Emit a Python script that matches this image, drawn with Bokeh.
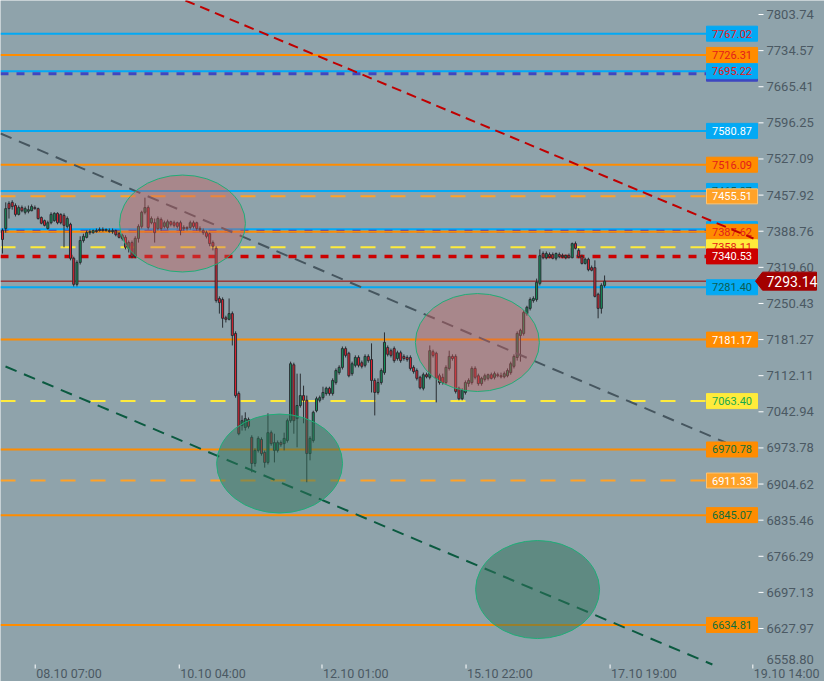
from bokeh.plotting import figure
from bokeh.models import Range1d, ColumnDataSource
from bokeh.core.properties import value
from bokeh.embed import file_html
from bokeh.resources import INLINE

# ---------------- DATA ----------------
open_ = [
    7390, 7394, 7442, 7444, 7438, 7421, 7434, 7425, 7427, 7428,
    7434, 7432, 7415, 7409, 7394, 7405, 7409, 7423, 7421, 7419,
    7398, 7402, 7337, 7287, 7329, 7371, 7377, 7386, 7386, 7390,
    7390, 7392, 7390, 7390, 7388, 7390, 7384, 7381, 7377, 7356,
    7367, 7340, 7375, 7398, 7425, 7434, 7405, 7405, 7394, 7411,
    7398, 7396, 7407, 7405, 7405, 7405, 7394, 7396, 7396, 7405,
    7405, 7394, 7390, 7386, 7384, 7367, 7356, 7260, 7258, 7223,
    7220, 7231, 7193, 7078, 7017, 7013, 7028, 6994, 6944, 6969,
    6990, 6965, 6946, 7003, 6969, 6969, 6984, 6982, 6988, 7026,
    7133, 7030, 7055, 7074, 7065, 6963, 6988, 7045, 7065, 7070,
    7078, 7088, 7078, 7099, 7118, 7128, 7164, 7155, 7116, 7132,
    7147, 7137, 7132, 7149, 7143, 7103, 7080, 7099, 7118, 7166,
    7160, 7164, 7145, 7156, 7149, 7147, 7147, 7128, 7122, 7109,
    7088, 7114, 7109, 7158, 7155, 7112, 7109, 7099, 7126, 7149,
    7149, 7088, 7068, 7080, 7097, 7099, 7126, 7112, 7097, 7105,
    7107, 7114, 7109, 7114, 7112, 7110, 7112, 7118, 7130, 7147,
    7189, 7193, 7231, 7241, 7256, 7258, 7289, 7346, 7338, 7344,
    7344, 7337, 7344, 7342, 7338, 7342, 7338, 7365, 7352, 7340,
    7327, 7335, 7319, 7319, 7268, 7241, 7285,
]
high = [
    7394, 7444, 7446, 7448, 7442, 7438, 7438, 7436, 7438, 7440,
    7438, 7434, 7417, 7411, 7409, 7425, 7425, 7425, 7423, 7423,
    7417, 7405, 7340, 7333, 7379, 7384, 7390, 7392, 7392, 7394,
    7396, 7396, 7394, 7394, 7394, 7392, 7388, 7384, 7381, 7371,
    7371, 7379, 7402, 7428, 7453, 7438, 7417, 7413, 7417, 7415,
    7409, 7411, 7409, 7409, 7407, 7409, 7400, 7398, 7409, 7409,
    7407, 7398, 7394, 7390, 7386, 7371, 7360, 7264, 7262, 7227,
    7260, 7235, 7197, 7082, 7036, 7042, 7032, 6998, 6973, 6996,
    6994, 6969, 7040, 7007, 7001, 6988, 6988, 7003, 7030, 7139,
    7137, 7116, 7116, 7093, 7074, 6996, 7045, 7072, 7074, 7091,
    7091, 7091, 7107, 7126, 7132, 7168, 7168, 7158, 7139, 7151,
    7151, 7141, 7153, 7153, 7174, 7107, 7107, 7126, 7195, 7170,
    7164, 7168, 7160, 7160, 7153, 7151, 7151, 7132, 7126, 7112,
    7118, 7118, 7170, 7162, 7158, 7116, 7116, 7132, 7160, 7153,
    7153, 7091, 7088, 7103, 7107, 7130, 7130, 7116, 7110, 7116,
    7116, 7118, 7120, 7118, 7118, 7120, 7126, 7139, 7153, 7197,
    7202, 7237, 7246, 7262, 7264, 7298, 7354, 7350, 7350, 7348,
    7348, 7348, 7348, 7346, 7344, 7346, 7367, 7369, 7356, 7344,
    7338, 7338, 7323, 7333, 7271, 7289, 7304,
]
low = [
    7346, 7386, 7413, 7430, 7417, 7419, 7425, 7421, 7423, 7427,
    7430, 7411, 7402, 7398, 7392, 7402, 7407, 7402, 7402, 7358,
    7394, 7333, 7283, 7283, 7325, 7367, 7375, 7382, 7384, 7386,
    7388, 7388, 7388, 7386, 7384, 7379, 7375, 7371, 7354, 7348,
    7337, 7337, 7367, 7394, 7421, 7392, 7402, 7367, 7390, 7390,
    7394, 7392, 7398, 7396, 7394, 7381, 7390, 7390, 7392, 7394,
    7390, 7388, 7382, 7375, 7360, 7352, 7252, 7231, 7204, 7214,
    7218, 7170, 7070, 6998, 7007, 7007, 7011, 6927, 6938, 6965,
    6959, 6936, 6942, 6978, 6946, 6965, 6976, 6969, 6984, 7022,
    7001, 6975, 7051, 7021, 6908, 6950, 6984, 7042, 7061, 7066,
    7074, 7074, 7074, 7095, 7114, 7124, 7147, 7109, 7112, 7128,
    7128, 7126, 7128, 7137, 7080, 7036, 7076, 7095, 7114, 7149,
    7147, 7137, 7141, 7137, 7141, 7139, 7122, 7116, 7103, 7086,
    7084, 7107, 7105, 7147, 7061, 7095, 7095, 7095, 7122, 7141,
    7078, 7065, 7065, 7076, 7091, 7095, 7105, 7093, 7093, 7101,
    7103, 7105, 7105, 7109, 7107, 7107, 7109, 7114, 7126, 7141,
    7139, 7189, 7227, 7237, 7252, 7254, 7285, 7335, 7335, 7337,
    7335, 7333, 7337, 7337, 7335, 7337, 7337, 7354, 7337, 7325,
    7325, 7312, 7312, 7262, 7222, 7231, 7281,
]
close = [
    7373, 7432, 7432, 7436, 7421, 7434, 7428, 7432, 7430, 7436,
    7432, 7413, 7404, 7400, 7405, 7421, 7423, 7405, 7405, 7400,
    7413, 7337, 7287, 7329, 7371, 7379, 7386, 7388, 7390, 7388,
    7392, 7390, 7392, 7388, 7390, 7382, 7377, 7375, 7358, 7367,
    7340, 7375, 7398, 7425, 7434, 7396, 7413, 7386, 7413, 7394,
    7405, 7407, 7402, 7400, 7398, 7390, 7396, 7394, 7405, 7398,
    7394, 7392, 7386, 7379, 7365, 7360, 7256, 7252, 7222, 7220,
    7231, 7189, 7074, 7001, 7026, 7030, 7015, 6944, 6969, 6992,
    6963, 6946, 7003, 6982, 6984, 6984, 6980, 6992, 7026, 7135,
    7026, 7055, 7074, 7065, 6963, 6992, 7042, 7068, 7070, 7080,
    7088, 7078, 7103, 7122, 7128, 7164, 7151, 7112, 7135, 7147,
    7132, 7130, 7149, 7141, 7103, 7080, 7099, 7122, 7176, 7153,
    7151, 7141, 7156, 7141, 7145, 7143, 7126, 7120, 7107, 7089,
    7114, 7110, 7160, 7151, 7107, 7099, 7099, 7128, 7149, 7145,
    7082, 7068, 7084, 7099, 7103, 7126, 7109, 7097, 7107, 7112,
    7114, 7107, 7116, 7112, 7110, 7116, 7122, 7135, 7149, 7193,
    7199, 7233, 7243, 7258, 7260, 7291, 7342, 7338, 7346, 7340,
    7337, 7346, 7340, 7340, 7342, 7338, 7365, 7356, 7340, 7327,
    7335, 7315, 7314, 7264, 7241, 7285, 7293.14,
]
last_price = 7293.14

x_tick_bars = [10.1, 54.6, 98.7, 143.2, 187.7, 231.8]
x_tick_labels = ["08.10 07:00", "10.10 04:00", "12.10 01:00", "15.10 22:00", "17.10 19:00", "19.10 14:00"]
y_ticks = [7803.74, 7734.57, 7665.41, 7596.25, 7527.09, 7457.92, 7388.76, 7319.60, 7250.43,
           7181.27, 7112.11, 7042.94, 6973.78, 6904.62, 6835.46, 6766.29, 6697.13, 6627.97]
y_bottom_label = 6558.80

# horizontal levels (prices)
level_prices = [7767.02, 7726.31, 7695.22, 7690.40, 7580.87, 7516.09, 7465.87, 7455.51, 7392.69,
                7388.60, 7387.62, 7358.11, 7340.53, 7293.14, 7281.40, 7181.17, 7063.40, 6970.78,
                6911.33, 6845.07, 6634.81]
level_kinds = ["blue", "orange", "blue", "dblue", "blue", "orange", "blue", "lorange", "blue",
               "dblue", "orange", "yellow", "red", "price", "blue", "orange", "yellow", "orange",
               "lorange", "orange", "orange"]

# price tags at the right edge (drawing order)
tag_prices = [7767.02, 7726.31, 7690.40, 7695.22, 7580.87, 7516.09, 7465.87, 7455.51, 7392.69,
              7387.62, 7358.11, 7340.53, 7281.40, 7181.17, 7063.40, 6970.78, 6911.33, 6845.07, 6634.81]
tag_kinds = ["blue", "orange", "dblue", "blue", "blue", "orange", "blue", "lorange", "blue",
             "orange", "yellow", "red", "blue", "orange", "yellow", "orange", "lorange", "orange", "orange"]
tag_text_kinds = ["red", "red", "none", "red", "white", "red", "teal", "white", "teal",
                  "red", "red", "white", "teal", "white", "green", "dgreen", "white", "dgreen", "dgreen"]

# trend lines (bar index, price)
trend_red_x = [56.5, 232.0]
trend_red_y = [7830.55, 7374.8]
trend_gray_x = [-0.62, 223.4]
trend_gray_y = [7575.9, 6984.1]
trend_green_x = [0.93, 219.3]
trend_green_y = [7129.7, 6559.0]

# ellipses (bar index, price, width in bars, height in price)
ell_x = [55.6, 146.7, 85.6, 165.3]
ell_y = [7403.5, 7175.6, 6943.9, 6702.6]
ell_w = [38.9, 38.3, 38.9, 38.3]
ell_h = [185.7, 187.7, 189.6, 187.7]
ell_kind = ["red", "red", "green", "green"]

# ---------------- LAYOUT / STYLE ----------------
W, H = 824, 681
BAR_PX = 3.237          # pixels per bar
PRICE_PER_PX = 1.91489  # price units per pixel
X0 = -0.62
YTOP = 7830.55
CHART_R = 757           # right edge of the candle area (px)
CHART_B = 664           # bottom edge of the candle area (px)


def sx(px):
    return X0 + px / BAR_PX


def sy(py):
    return YTOP - py * PRICE_PER_PX


BG = "#8fa3ab"
AXC = "#4b5963"
COL = {"blue": "#03a9f4", "orange": "#ff8c00", "lorange": "#ffa228", "yellow": "#ffeb3b",
       "red": "#cc0000", "dblue": "#3f47c0", "price": "#a00000"}
LSTYLE = {"blue": ("solid", 2), "orange": ("solid", 2), "lorange": ("15 15", 2), "yellow": ("15 15", 2),
          "red": ("8 8", 3.5), "dblue": ("8 8", 3), "price": ("solid", 1)}
TXT = {"red": "#e31b1b", "white": "#ffffff", "teal": "#0b5d52", "green": "#18a84c",
       "dgreen": "#0f6e3c"}

p = figure(width=W, height=H, x_range=Range1d(sx(0), sx(W)), y_range=Range1d(sy(H), sy(0)),
           x_axis_location=None, y_axis_location=None, output_backend="svg", toolbar_location=None,
           min_border=0, min_border_left=0, min_border_right=0, min_border_top=0, min_border_bottom=0,
           background_fill_color=BG, border_fill_color=BG, outline_line_color=None)
p.grid.visible = False

XE = sx(CHART_R)

# horizontal levels
for pr, k in zip(level_prices, level_kinds):
    dash, w = LSTYLE[k]
    p.line([X0, XE], [pr, pr], line_color=COL[k], line_width=w, line_dash=dash)

# candles
idx = list(range(len(close)))
src = ColumnDataSource(dict(
    x=idx, high=high, low=low,
    top=[max(o, c) for o, c in zip(open_, close)],
    bottom=[min(o, c) for o, c in zip(open_, close)],
    color=["#13925a" if c >= o else "#e4212f" for o, c in zip(open_, close)],
))
p.segment(x0="x", y0="high", x1="x", y1="low", source=src, line_color="#2a2e33", line_width=1)
p.vbar(x="x", top="top", bottom="bottom", width=0.62, source=src,
       fill_color="color", line_color="#2a2e33", line_width=1)

# trend lines under ellipses
p.line(trend_gray_x, trend_gray_y, line_color="#46565f", line_width=2, line_dash="12 8")
p.line(trend_green_x, trend_green_y, line_color="#0b5a40", line_width=2, line_dash="12 8")

# ellipses
EF = {"red": ("#cd5c5c", 0.4), "green": ("#2f715a", 0.5)}
for ex, ey, ew, eh, k in zip(ell_x, ell_y, ell_w, ell_h, ell_kind):
    fc, fa = EF[k]
    p.ellipse(x=[ex], y=[ey], width=[ew], height=[eh], fill_color=fc, fill_alpha=fa,
              line_color="#1fae78", line_width=1)

# right-edge price tags
bx = sx(CHART_R - 25.5)
for pr, k, tk in zip(tag_prices, tag_kinds, tag_text_kinds):
    edge = "#ffc470" if k == "lorange" else COL[k]
    p.rect(x=[bx], y=[pr], width=51, height=15, width_units="screen", height_units="screen",
           fill_color=COL[k], line_color=edge, line_width=1)
    if tk != "none":
        p.text(x=[bx], y=[pr], text=["%.2f" % pr], text_align="center", text_baseline="middle",
               text_font=value("Roboto"), text_font_size="11px", text_color=TXT[tk])

# red trend line on top
p.line(trend_red_x, trend_red_y, line_color="#c00000", line_width=2, line_dash="10 6")

# price axis (right)
p.segment(x0=[sx(758)] * len(y_ticks), x1=[sx(763)] * len(y_ticks), y0=y_ticks, y1=y_ticks,
          line_color="white", line_width=1)
p.text(x=[sx(766)] * len(y_ticks), y=y_ticks, text=["%.2f" % v for v in y_ticks],
       text_align="left", text_baseline="middle", text_font=value("Roboto"),
       text_font_size="13px", text_color=AXC)
p.text(x=[sx(766)], y=[y_bottom_label], text=["%.2f" % y_bottom_label], y_offset=-5,
       text_align="left", text_baseline="middle", text_font=value("Roboto"),
       text_font_size="13px", text_color=AXC)

# time axis (bottom)
p.segment(x0=x_tick_bars, x1=x_tick_bars, y0=[sy(CHART_B)] * len(x_tick_bars),
          y1=[sy(CHART_B + 4)] * len(x_tick_bars), line_color="white", line_width=1)
p.text(x=x_tick_bars, y=[sy(CHART_B + 1)] * len(x_tick_bars), text=x_tick_labels, x_offset=1,
       text_align="left", text_baseline="top", text_font=value("Roboto"),
       text_font_size="12.5px", text_color=AXC)

# current price tag on the axis
h9 = 9 * PRICE_PER_PX
p.patch([sx(755), sx(762), sx(816), sx(816), sx(762)],
        [last_price, last_price + h9, last_price + h9, last_price - h9, last_price - h9],
        fill_color="#a30000", line_color="#a30000")
p.text(x=[sx(766)], y=[last_price], text=["%.2f" % last_price], text_align="left",
       text_baseline="middle", text_font=value("Roboto"), text_font_size="14px", text_color="white")

open("out.html", "w").write(file_html(p, INLINE))
